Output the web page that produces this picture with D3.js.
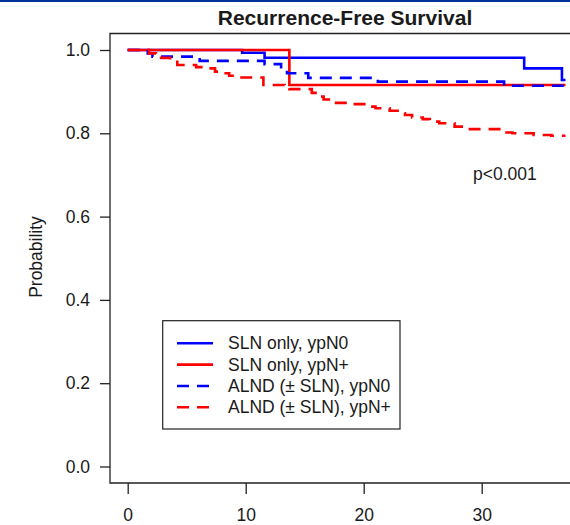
<!DOCTYPE html>
<html>
<head>
<meta charset="utf-8">
<style>
body { margin: 0; background: #fff; }
text { font-family: Arial, "Liberation Sans", sans-serif; fill: #1a1a1a; }
</style>
</head>
<body>
<svg id="viz"></svg>
<script src="https://cdn.jsdelivr.net/npm/d3@7"></script>
<script>
var width = 570;
var height = 525;

// data (months, survival probability)
var slnN0Time = [0, 9.7, 11.6, 33.6, 36.8, 37.1];
var slnN0Surv = [1, 0.9935, 0.9815, 0.956, 0.928, 0.928];

var slnNpTime = [0, 13.7, 37.1];
var slnNpSurv = [1, 0.916, 0.916];

var alndN0Time = [0, 1.7, 2.1, 6.1, 11.6, 13.0, 13.5, 15.3, 21.2, 31.9, 37.1];
var alndN0Surv = [1, 0.992, 0.984, 0.974, 0.966, 0.954, 0.944, 0.933, 0.924, 0.914, 0.914];

var alndNpTime = [0, 1.8, 2.4, 3.6, 4.2, 5.8, 6.4, 7.4, 8.0, 8.6, 9.0,
  11.5, 13.3, 13.7, 15.6, 16.2, 16.6, 17.3, 19.0, 20.5, 21.0,
  22.2, 23.1, 23.5, 24.1, 25.0, 25.6, 26.4, 27.7, 28.5, 31.8,
  32.6, 34.4, 35.9, 37.1];
var alndNpSurv = [1, 0.992, 0.981, 0.975, 0.964, 0.959, 0.956, 0.948, 0.944, 0.938, 0.934,
  0.916, 0.912, 0.906, 0.897, 0.888, 0.881, 0.873, 0.870, 0.864, 0.860,
  0.854, 0.848, 0.844, 0.838, 0.834, 0.828, 0.824, 0.816, 0.810, 0.802,
  0.800, 0.796, 0.794, 0.794];

var seriesNames = ["SLN only, ypN0", "SLN only, ypN+", "ALND (\u00b1 SLN), ypN0", "ALND (\u00b1 SLN), ypN+"];
var seriesColors = ["#0000ff", "#ff0000", "#0000ff", "#ff0000"];
var seriesDashed = [false, false, true, true];

var xTicks = [0, 10, 20, 30];
var yTicks = [0, 0.2, 0.4, 0.6, 0.8, 1.0];

var series = [
  {time: slnN0Time, surv: slnN0Surv},
  {time: slnNpTime, surv: slnNpSurv},
  {time: alndN0Time, surv: alndN0Surv},
  {time: alndNpTime, surv: alndNpSurv}
];

var svg = d3.select("#viz").attr("width", width).attr("height", height);

// top border bar
svg.append("rect").attr("x", 0).attr("y", 0).attr("width", width).attr("height", 2).attr("fill", "#003399");

var x = d3.scaleLinear().domain([0, 37.5]).range([127.7, 570.2]);
var y = d3.scaleLinear().domain([0, 1]).range([466.5, 50]);

var boxLeft = 110, boxTop = 33.5, boxBottom = 483;

// plot box
svg.append("path")
  .attr("d", "M" + (width + 2) + "," + boxTop + "H" + boxLeft + "V" + boxBottom + "H" + (width + 2))
  .attr("fill", "none")
  .attr("stroke", "#222")
  .attr("stroke-width", 1.3);

var yAxis = svg.append("g")
  .attr("transform", "translate(" + boxLeft + ",0)")
  .call(d3.axisLeft(y).tickValues(yTicks).tickFormat(d3.format(".1f")).tickSize(10).tickPadding(10));

var xAxis = svg.append("g")
  .attr("transform", "translate(0," + boxBottom + ")")
  .call(d3.axisBottom(x).tickValues(xTicks).tickSize(11).tickPadding(15));

[yAxis, xAxis].forEach(function(a) {
  a.select(".domain").remove();
  a.selectAll("line").attr("stroke", "#222").attr("stroke-width", 1.3);
  a.selectAll("text").style("font-size", "17.5px").style("font-family", "Arial, 'Liberation Sans', sans-serif").attr("fill", "#1a1a1a");
});

var line = d3.line()
  .x(function(d) { return x(d[0]); })
  .y(function(d) { return y(d[1]); })
  .curve(d3.curveStepAfter);

series.forEach(function(s, i) {
  var pts = s.time.map(function(t, j) { return [t, s.surv[j]]; });
  svg.append("path")
    .datum(pts)
    .attr("d", line)
    .attr("fill", "none")
    .attr("stroke", seriesColors[i])
    .attr("stroke-width", 2.6)
    .attr("stroke-dasharray", seriesDashed[i] ? "12,8" : null);
});

// title
svg.append("text")
  .attr("x", 345).attr("y", 25)
  .attr("text-anchor", "middle")
  .style("font-size", "21px")
  .style("font-weight", "bold")
  .text("Recurrence-Free Survival");

// y label
svg.append("text")
  .attr("transform", "translate(42,257) rotate(-90)")
  .attr("text-anchor", "middle")
  .style("font-size", "17.5px")
  .text("Probability");

// p value
svg.append("text")
  .attr("x", 473).attr("y", 180)
  .style("font-size", "17.5px")
  .text("p<0.001");

// legend
var legend = svg.append("g");
legend.append("rect")
  .attr("x", 162.7).attr("y", 320.7)
  .attr("width", 237.3).attr("height", 108.3)
  .attr("fill", "#fff")
  .attr("stroke", "#222")
  .attr("stroke-width", 1.2);

var rowY = d3.scaleLinear().domain([0, 3]).range([343.3, 407.3]);

seriesNames.forEach(function(name, i) {
  legend.append("line")
    .attr("x1", 177).attr("x2", 213)
    .attr("y1", rowY(i)).attr("y2", rowY(i))
    .attr("stroke", seriesColors[i])
    .attr("stroke-width", 2.6)
    .attr("stroke-dasharray", seriesDashed[i] ? "12,8" : null);
  legend.append("text")
    .attr("x", 228).attr("y", rowY(i) + 6)
    .style("font-size", "17.5px")
    .text(name);
});
</script>
</body>
</html>
